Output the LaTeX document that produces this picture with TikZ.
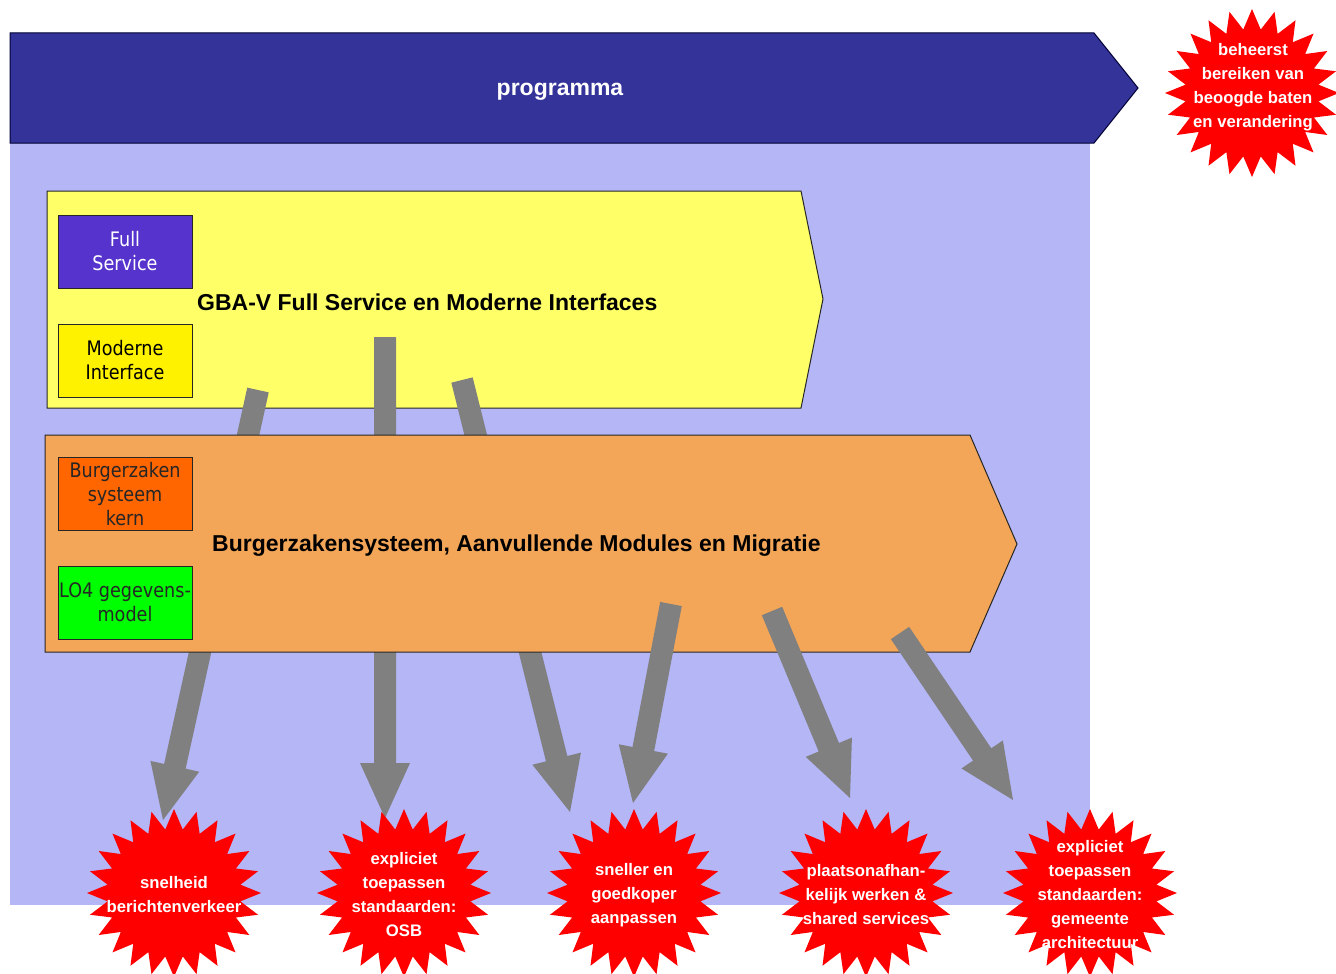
\documentclass[tikz,border=0pt]{standalone}
\usepackage{fontspec}
\setmainfont{Liberation Sans}
\newfontfamily\boxfont[FakeStretch=0.88]{DejaVu Sans}
\usetikzlibrary{calc}

\definecolor{progblue}{RGB}{51,51,153}
\definecolor{lavender}{RGB}{180,182,246}
\definecolor{paleyellow}{RGB}{255,255,104}
\definecolor{sandorange}{RGB}{243,166,88}
\definecolor{fullblue}{RGB}{85,51,204}
\definecolor{kernorange}{RGB}{255,102,0}
\definecolor{modelgreen}{RGB}{0,255,0}
\definecolor{arrowgray}{RGB}{128,128,128}
\definecolor{burstred}{RGB}{255,0,0}

% gray block arrow from #1 to its tip #2; #3 names the base of the head
\newcommand\blockarrow[3]{%
  \coordinate (#3) at ($(#2)!55pt!(#1)$);
  \fill[arrowgray] ($(#1)!11pt!90:(#2)$) -- ($(#3)!11pt!90:(#2)$)
    -- ($(#3)!25pt!90:(#2)$) -- (#2) -- ($(#3)!25pt!-90:(#2)$)
    -- ($(#3)!11pt!-90:(#2)$) -- ($(#1)!11pt!-90:(#2)$) -- cycle;}

% 24-point red starburst around coordinate #1
\newcommand\starburst[1]{%
  \fill[burstred] ([shift={(#1)}]90:87 and 84)
    \foreach \k in {0,...,23} {
      -- ([shift={(#1)}]{97.5+\k*15}:67 and 64)
      -- ([shift={(#1)}]{105+\k*15}:87 and 84)} -- cycle;}

\begin{document}
\begin{tikzpicture}[x=1pt,y=-1pt,
  outline/.style={draw=black!85,line width=1pt},
  innerbox/.style={outline,minimum width=134pt,minimum height=73pt,inner sep=0pt,
    align=center,font=\boxfont\fontsize{20}{24}\selectfont},
  title/.style={font=\bfseries\fontsize{23}{27}\selectfont,inner sep=0pt},
  bursttext/.style={text=white,align=center,inner sep=0pt,
    font=\bfseries\fontsize{16.7}{24}\selectfont}]
\useasboundingbox (0,0) rectangle (1336,974);

% programme background and header arrow
\fill[lavender] (10,100) rectangle (1090,905);
\draw[fill=progblue,draw=black!80!blue,line width=1pt]
  (10,33) -- (1094,33) -- (1138,88) -- (1094,143) -- (10,143) -- cycle;
\node[title,text=white] (prog) at (560,92) {programma};

% project GBA-V
\draw[outline,fill=paleyellow]
  (47,191) -- (801,191) -- (823,299) -- (801,408) -- (47,408) -- cycle;
\node[title,anchor=west] (gba) at (197,302) {GBA-V Full Service en Moderne Interfaces};
\node[innerbox,fill=fullblue,text=white] (full) at (125,251.5) {Full\\Service};
\node[innerbox,fill=yellow,text=black] (modern) at (125,360.5) {Moderne\\Interface};

% arrows leaving GBA-V, passing behind the second project
\coordinate (a1s) at (258,390); \coordinate (a1e) at (163,820);
\coordinate (a2s) at (385,337); \coordinate (a2e) at (385,818);
\coordinate (a3s) at (462,380); \coordinate (a3e) at (570,812);
\blockarrow{a1s}{a1e}{a1h}
\blockarrow{a2s}{a2e}{a2h}
\blockarrow{a3s}{a3e}{a3h}

% project Burgerzakensysteem
\draw[outline,fill=sandorange]
  (45,435) -- (970,435) -- (1017,544) -- (970,652) -- (45,652) -- cycle;
\node[title,anchor=west] (bzs) at (212,546) {Burgerzakensysteem, Aanvullende Modules en Migratie};
\node[innerbox,fill=kernorange,text=black!85] (kern) at (125,494) {Burgerzaken\\systeem\\kern};
\node[innerbox,fill=modelgreen,text=black!85] (lo4) at (125,602.5) {LO4 gegevens-\\model};

% arrows leaving Burgerzakensysteem
\coordinate (a4s) at (671,604); \coordinate (a4e) at (633,803);
\coordinate (a5s) at (772,611); \coordinate (a5e) at (850,798);
\coordinate (a6s) at (900,633); \coordinate (a6e) at (1013,800);
\blockarrow{a4s}{a4e}{a4h}
\blockarrow{a5s}{a5e}{a5h}
\blockarrow{a6s}{a6e}{a6h}

% benefits
\coordinate (b0) at (1252,93);
\coordinate (b1) at (174,893);
\coordinate (b2) at (404,893);
\coordinate (b3) at (634,893);
\coordinate (b4) at (866,893);
\coordinate (b5) at (1090,893);
\starburst{b0}\starburst{b1}\starburst{b2}\starburst{b3}\starburst{b4}\starburst{b5}
\node[bursttext] (t0) at (1253,87) {beheerst\\bereiken van\\beoogde baten\\en verandering};
\node[bursttext] (t1) at (174,895) {snelheid\\berichtenverkeer};
\node[bursttext] (t2) at (404,895) {expliciet\\toepassen\\standaarden:\\OSB};
\node[bursttext] (t3) at (634,895) {sneller en\\goedkoper\\aanpassen};
\node[bursttext] (t4) at (866,895) {plaatsonafhan-\\kelijk werken \&\\shared services};
\node[bursttext] (t5) at (1090,895) {expliciet\\toepassen\\standaarden:\\gemeente\\architectuur};
\end{tikzpicture}
\end{document}
